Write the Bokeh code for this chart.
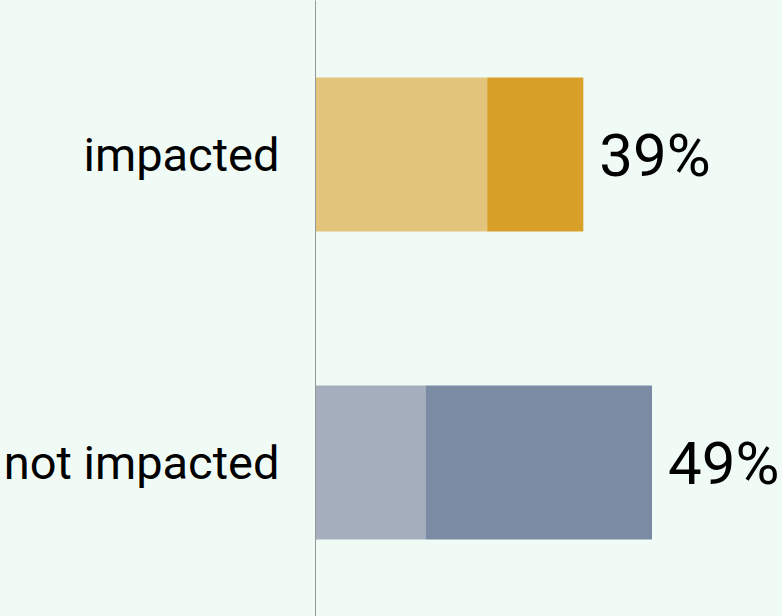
from bokeh.plotting import figure
from bokeh.models import FactorRange, Range1d, ColumnDataSource
from bokeh.core.properties import value
from bokeh.embed import file_html
from bokeh.resources import INLINE

# data
categories = ["not impacted", "impacted"]
part_light = [16, 25]
part_dark = [33, 14]
totals = [49, 39]
total_labels = ["49%", "39%"]
light_colors = ["#a6afbd", "#e2c47a"]
dark_colors = ["#7a8ba3", "#d89f29"]

BG = "#f1fbf6"

p = figure(
    width=782, height=616,
    y_range=FactorRange(factors=categories, range_padding=0),
    x_range=Range1d(0, 68),
    output_backend="svg", toolbar_location=None,
    min_border_left=313, min_border_right=0, min_border_top=0, min_border_bottom=0,
    background_fill_color=BG, border_fill_color=BG,
)
p.outline_line_color = None
p.grid.visible = False
p.xaxis.visible = False

src = ColumnDataSource(dict(
    cat=categories,
    light=part_light,
    dark=part_dark,
    total=totals,
    lab=total_labels,
    lc=light_colors,
    dc=dark_colors,
))

p.hbar(y="cat", left=0, right="light", height=0.5, fill_color="lc", line_color=None, source=src)
p.hbar(y="cat", left="light", right="total", height=0.5, fill_color="dc", line_color=None, source=src)

p.text(x="total", y="cat", text="lab", source=src, x_offset=16, y_offset=1,
       text_align="left", text_baseline="middle",
       text_font=value("Roboto"), text_font_size="60px", text_color="black")

ax = p.yaxis[0]
ax.axis_line_color = "#999999"
ax.axis_line_width = 1
ax.major_tick_line_color = None
ax.minor_tick_line_color = None
ax.major_label_standoff = 30
ax.major_label_text_font = "Roboto"
ax.major_label_text_font_size = "47px"
ax.major_label_text_color = "black"

html = file_html(p, INLINE)
html = html.replace("<head>", "<head><style>html,body{margin:0;padding:0;background:%s;}</style>" % BG, 1)
open("out.html", "w").write(html)
